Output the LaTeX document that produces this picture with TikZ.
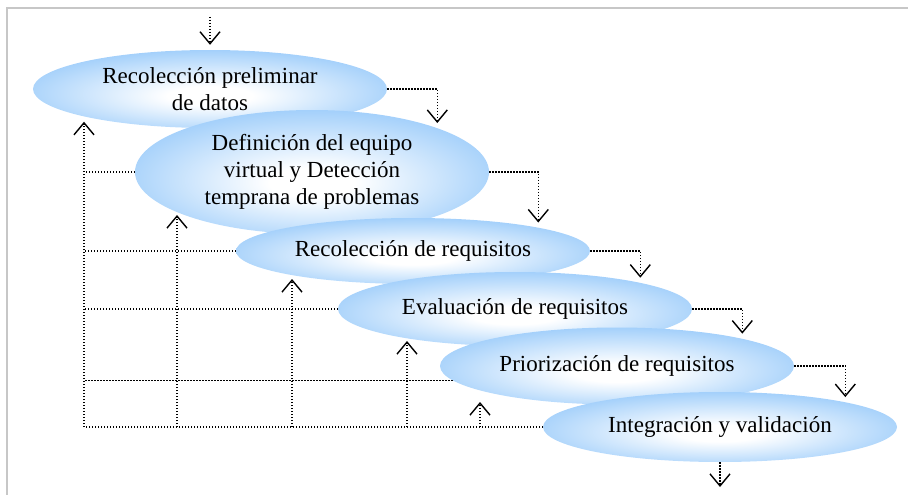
\documentclass[tikz,border=0pt]{standalone}
\usepackage{fontspec}
\setmainfont{Liberation Serif}
\usetikzlibrary{shapes.geometric,arrows.meta,positioning,calc}
\definecolor{bubbleblue}{RGB}{152,202,250}
\pgfdeclareradialshading{bubble}{\pgfpoint{0bp}{-5bp}}{color(0bp)=(white); color(6bp)=(white); color(30bp)=(bubbleblue); color(50bp)=(bubbleblue)}
\tikzset{
  phase/.style={ellipse, shading=bubble, inner sep=0pt, minimum width=354pt, align=center, font=\fontsize{23}{27}\selectfont},
  link/.style={line width=1.3pt, dash pattern=on 1.3pt off 1.7pt},
  flow/.style={link, -{Straight Barb[length=12pt,width=20pt,line width=1.4pt]}, shorten >=5pt},
  frame/.style={draw=black!22, line width=2pt}
}

\begin{document}
\begin{tikzpicture}[x=1pt,y=-1pt]
    \useasboundingbox (0,0) rectangle (908,495);
    \draw[frame] (7,495) -- (7,8) -- (908,8);

    % Phases
    \node[phase, minimum height=78pt] (pre) at (210,89) {Recolección preliminar\\de datos};
    \node[phase, minimum height=124pt] (def) at (312,172) {Definición del equipo\\virtual y Detección\\temprana de problemas};
    \node[phase, minimum height=66pt] (req) at (413,251) {Recolección de requisitos};
    \node[phase, minimum height=74pt] (eva) at (515,309) {Evaluación de requisitos};
    \node[phase, minimum height=77pt] (pri) at (617,366) {Priorización de requisitos};
    \node[phase, minimum height=70pt] (int) at (720,427) {Integración y validación};

    % Forward path
    \coordinate (in) at (210,17);
    \coordinate (out) at (720,492);
    \draw[flow] (in) -- (pre.north);
    \draw[flow] (pre.east) -| (def.north east);
    \draw[flow] (def.east) -| (req.north east);
    \draw[flow] (req.east) -| (eva.north east);
    \draw[flow] (eva.east) -| (pri.north east);
    \draw[flow] (pri.east) -| (int.north east);
    \draw[flow] (int.south) -- (out);

    % Feedback path
    \coordinate (back) at (84,427);
    \coordinate (up2) at (177,210);
    \coordinate (up3) at (292,274);
    \coordinate (up4) at (407,336);
    \coordinate (up5) at (480,397);
    \draw[link] (int.west) -- (back);
    \draw[flow] (back) -- (back |- pre.south west);
    \draw[link] (def.west) -- (def.west -| back);
    \draw[link] (req.west) -- (req.west -| back);
    \draw[link] (eva.west) -- (eva.west -| back);
    \draw[link] (pri.185) -- (pri.185 -| back);
    \draw[flow] (back -| up2) -- (up2);
    \draw[flow] (back -| up3) -- (up3);
    \draw[flow] (back -| up4) -- (up4);
    \draw[flow] (back -| up5) -- (up5);

\end{tikzpicture}
\end{document}
